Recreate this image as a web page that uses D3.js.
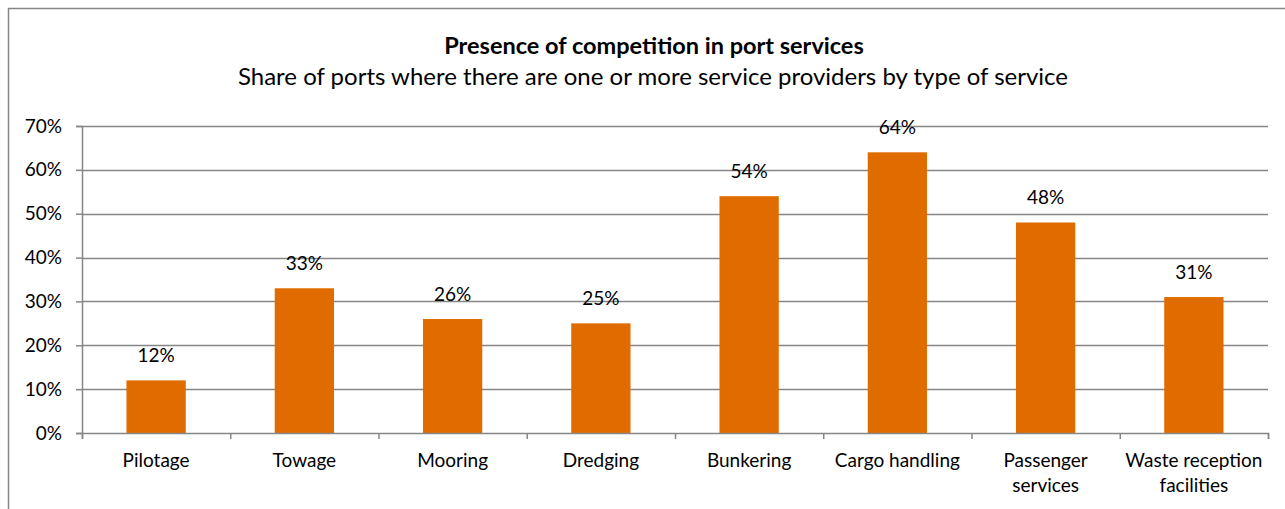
<!DOCTYPE html>
<html>
<head>
<meta charset="utf-8">
<script src="https://cdn.jsdelivr.net/npm/d3@7"></script>
<style>
  html, body { margin: 0; padding: 0; background: #fff; }
  svg { display: block; font-family: Lato, "Open Sans", sans-serif; }
</style>
</head>
<body>
<svg id="chart" width="1285" height="509"></svg>
<script>
// Port services and the share of ports with competing providers
const categories = [
  ["Pilotage"],
  ["Towage"],
  ["Mooring"],
  ["Dredging"],
  ["Bunkering"],
  ["Cargo handling"],
  ["Passenger", "services"],
  ["Waste reception", "facilities"]
];
const shares = [0.12, 0.33, 0.26, 0.25, 0.54, 0.64, 0.48, 0.31];
const yTicks = [0, 0.1, 0.2, 0.3, 0.4, 0.5, 0.6, 0.7];

const titleText = "Presence of competition in port services";
const subtitleText = "Share of ports where there are one or more service providers by type of service";

const svg = d3.select("#chart");
const margin = { left: 82, right: 17, top: 126, bottom: 76 };
const W = 1285, H = 509;
const labelSize = 19;
const pct = d3.format(".0%");

// Outer frame of the chart area
svg.append("path")
  .attr("d", `M8.5,${H} V8.5 H${W}`)
  .attr("fill", "none")
  .attr("stroke", "#868686")
  .attr("stroke-width", 1.5);

svg.append("text")
  .attr("x", 654).attr("y", 54)
  .attr("text-anchor", "middle")
  .attr("font-weight", "bold")
  .attr("font-size", 23.5)
  .text(titleText);

svg.append("text")
  .attr("x", 653).attr("y", 85)
  .attr("text-anchor", "middle")
  .attr("font-size", 24)
  .text(subtitleText);

const x = d3.scaleBand()
  .domain(categories.map((d, i) => i))
  .range([margin.left, W - margin.right])
  .paddingInner(0.6)
  .paddingOuter(0.3);

const y = d3.scaleLinear()
  .domain([0, 0.7])
  .range([H - margin.bottom, margin.top]);

// Horizontal gridlines
svg.append("g")
  .selectAll("line")
  .data(yTicks.slice(1))
  .join("line")
  .attr("x1", margin.left).attr("x2", W - margin.right)
  .attr("y1", d => Math.round(y(d)) + 0.5).attr("y2", d => Math.round(y(d)) + 0.5)
  .attr("stroke", "#868686")
  .attr("stroke-width", 1.5);

// Y axis
const yAxis = svg.append("g")
  .attr("transform", `translate(${margin.left},0)`)
  .call(d3.axisLeft(y).tickValues(yTicks).tickFormat(pct).tickSize(6).tickPadding(14));
yAxis.selectAll("text")
  .attr("font-size", labelSize)
  .attr("fill", "#000")
  .attr("font-family", "Lato, 'Open Sans', sans-serif");
yAxis.selectAll("line,path").attr("stroke", "#868686").attr("stroke-width", 1.5);

// Bars
svg.append("g")
  .selectAll("rect")
  .data(shares)
  .join("rect")
  .attr("x", (d, i) => x(i))
  .attr("width", x.bandwidth())
  .attr("y", d => y(d))
  .attr("height", d => y(0) - y(d))
  .attr("fill", "#E06C00");

// Value labels
svg.append("g")
  .selectAll("text")
  .data(shares)
  .join("text")
  .attr("x", (d, i) => x(i) + x.bandwidth() / 2)
  .attr("y", d => y(d) - 18)
  .attr("text-anchor", "middle")
  .attr("font-size", labelSize)
  .text(d => pct(d));

// X axis baseline with ticks at category boundaries
const xb = d3.scaleLinear().domain([0, categories.length]).range([margin.left, W - margin.right]);
const xAxis = svg.append("g")
  .attr("transform", `translate(0,${y(0)})`)
  .call(d3.axisBottom(xb).tickValues(d3.range(categories.length + 1)).tickSize(6).tickSizeOuter(6).tickFormat(""));
xAxis.selectAll("line,path").attr("stroke", "#868686").attr("stroke-width", 1.5);

// Category labels
const lab = svg.append("g")
  .selectAll("text")
  .data(categories)
  .join("text")
  .attr("x", (d, i) => x(i) + x.bandwidth() / 2)
  .attr("y", y(0) + 34)
  .attr("text-anchor", "middle")
  .attr("font-size", labelSize);
lab.selectAll("tspan")
  .data(d => d)
  .join("tspan")
  .attr("x", function() { return d3.select(this.parentNode).attr("x"); })
  .attr("dy", (d, i) => i === 0 ? 0 : 25)
  .text(d => d);
</script>
</body>
</html>
